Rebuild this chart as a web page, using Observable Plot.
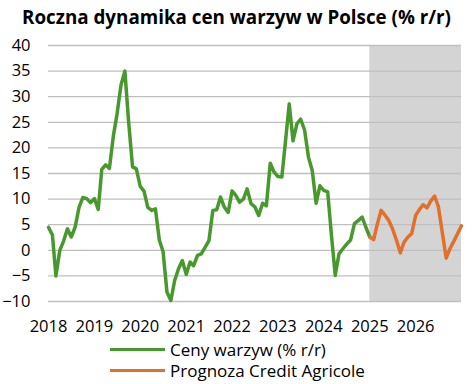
<!DOCTYPE html>
<html><head><meta charset="utf-8">
<script src="https://cdn.jsdelivr.net/npm/d3@7"></script>
<script src="https://cdn.jsdelivr.net/npm/@observablehq/plot@0.6"></script>
<style>
body{margin:0;background:#fff;font-family:"Open Sans",sans-serif;color:#000;}
#wrap{width:473px;height:384px;overflow:hidden;}
.title{height:34px;line-height:34px;text-align:center;font-weight:700;font-size:18.8px;white-space:nowrap;}
#chart svg{display:block;}
.legend{position:relative;height:45px;}
.row{position:absolute;left:110px;height:21px;display:flex;align-items:center;font-size:17px;white-space:nowrap;}
.sw{width:55px;height:3.5px;margin-right:5px;}
</style></head><body>
<div id="wrap">
<div class="title">Roczna dynamika cen warzyw w Polsce (% r/r)</div>
<div id="chart"></div>
<div class="legend" id="legend"></div>
</div>
<script>
const seriesNames = ["Ceny warzyw (% r/r)", "Prognoza Credit Agricole"];
const seriesColors = ["#48992d", "#e0702c"];
const actualStart = [2018, 0];
const actualValues = [
  4.5, 3.0, -5.0, 0.0, 1.8, 4.2, 2.6, 4.5, 8.4, 10.3, 10.1, 9.3,
  10.1, 8.0, 15.8, 16.7, 16.0, 22.3, 26.7, 32.3, 35.0, 25.0, 16.3, 15.9,
  12.5, 11.5, 8.4, 7.8, 8.1, 2.0, -0.3, -8.2, -9.8, -5.9, -3.6, -2.0,
  -4.7, -2.3, -3.0, -1.0, -0.7, 0.6, 1.9, 7.8, 7.9, 10.4, 8.4, 7.4,
  11.6, 10.7, 9.4, 10.0, 12.0, 9.1, 8.5, 6.8, 9.2, 8.7, 17.0, 15.3,
  14.4, 14.3, 21.0, 28.6, 21.4, 24.7, 25.6, 23.5, 18.2, 15.6, 9.2, 12.6,
  11.7, 11.4, 3.2, -4.9, -0.7, 0.3, 1.2, 2.0, 5.2, 5.8, 6.5, 4.5,
  2.6
];
const forecastStart = [2025, 0];
const forecastValues = [
  2.6, 2.1, 5.0, 7.8, 6.9, 5.8, 4.2, 2.0, -0.5, 1.6, 2.6, 3.3,
  6.8, 8.0, 8.9, 8.3, 9.6, 10.6, 8.5, 3.5, -1.5, 0.3, 1.8, 3.3,
  4.8
];
const yearTicks = [2018, 2019, 2020, 2021, 2022, 2023, 2024, 2025, 2026];
const yTicks = [-10, -5, 0, 5, 10, 15, 20, 25, 30, 35, 40];
const xDomainYears = [2018, 2027];
const shadeYears = [2025, 2027];

const toSeries = (start, vals) => vals.map((v, i) => ({date: new Date(Date.UTC(start[0], start[1] + i, 1)), value: v}));
const actual = toSeries(actualStart, actualValues);
const forecast = toSeries(forecastStart, forecastValues);
const yd = y => new Date(Date.UTC(y, 0, 1));
const shade = [{x1: yd(shadeYears[0]), x2: yd(shadeYears[1]), y1: yTicks[0], y2: yTicks[yTicks.length - 1]}];

const chart = Plot.plot({
  width: 473, height: 305,
  marginLeft: 48, marginRight: 12, marginTop: 11, marginBottom: 38,
  style: {fontFamily: "Open Sans, sans-serif", fontSize: "16.5px", color: "#000", background: "#fff"},
  x: {type: "utc", domain: xDomainYears.map(yd), ticks: yearTicks.map(yd), tickFormat: d => String(d.getUTCFullYear()), tickSize: 0, tickPadding: 19, label: null},
  y: {domain: [yTicks[0], yTicks[yTicks.length - 1]], ticks: yTicks, tickSize: 0, tickPadding: 18, label: null},
  marks: [
    Plot.rect(shade, {x1: "x1", x2: "x2", y1: "y1", y2: "y2", fill: "#d4d4d4"}),
    Plot.ruleY(yTicks, {stroke: "#bfbfbf", strokeWidth: 1.3}),
    Plot.line(actual, {x: "date", y: "value", stroke: seriesColors[0], strokeWidth: 3.5, strokeLinejoin: "round"}),
    Plot.line(forecast, {x: "date", y: "value", stroke: seriesColors[1], strokeWidth: 3.5, strokeLinejoin: "round"})
  ]
});
document.getElementById("chart").appendChild(chart);

const lg = document.getElementById("legend");
seriesNames.forEach((n, i) => {
  const r = document.createElement("div");
  r.className = "row";
  r.style.top = (i * 21) + "px";
  r.innerHTML = `<div class="sw" style="background:${seriesColors[i]}"></div><span>${n}</span>`;
  lg.appendChild(r);
});
</script>
</body></html>
